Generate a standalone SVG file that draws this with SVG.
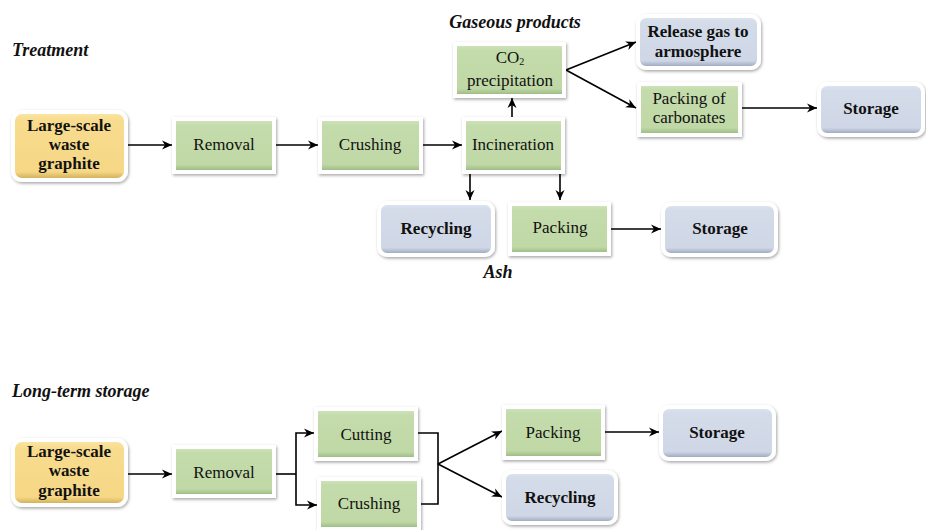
<svg xmlns="http://www.w3.org/2000/svg" width="926" height="530" viewBox="0 0 926 530">
<defs>
<linearGradient id="gG" x1="0" y1="0" x2="0" y2="1">
<stop offset="0" stop-color="#d2e5c0"/><stop offset="0.12" stop-color="#c4dcab"/><stop offset="0.86" stop-color="#bfd8a6"/><stop offset="1" stop-color="#93b27a"/>
</linearGradient>
<linearGradient id="gB" x1="0" y1="0" x2="0" y2="1">
<stop offset="0" stop-color="#e0e6f0"/><stop offset="0.12" stop-color="#d4dcea"/><stop offset="0.86" stop-color="#cfd7e6"/><stop offset="1" stop-color="#8f9cb3"/>
</linearGradient>
<linearGradient id="gY" x1="0" y1="0" x2="0" y2="1">
<stop offset="0" stop-color="#fbe6a8"/><stop offset="0.12" stop-color="#f8dc8e"/><stop offset="0.88" stop-color="#f5d785"/><stop offset="1" stop-color="#c9a650"/>
</linearGradient>
<filter id="sh" x="-10%" y="-10%" width="130%" height="140%">
<feDropShadow dx="1" dy="1.5" stdDeviation="1.5" flood-color="#000" flood-opacity="0.35"/>
</filter>
<marker id="ar" viewBox="0 0 10 10" refX="10" refY="5" markerWidth="10" markerHeight="10" markerUnits="userSpaceOnUse" orient="auto">
<path d="M0,0.5 L10,5 L0,9.5 L3,5 z" fill="#000"/>
</marker>
</defs>
<style>
.g{fill:url(#gG);stroke:#fff;stroke-width:4;filter:url(#sh)}
.b{fill:url(#gB);stroke:#fff;stroke-width:4;filter:url(#sh)}
.y{fill:url(#gY);stroke:#fff;stroke-width:4;filter:url(#sh)}
text{font-family:"Liberation Serif","Times New Roman",serif;font-size:17px;fill:#111;text-anchor:middle}
.bd{font-weight:bold}
.ti{font-weight:bold;font-style:italic;font-size:18px;text-anchor:start}
.c{fill:none;stroke:#000;stroke-width:1.6}
.a{marker-end:url(#ar)}
</style>

<text class="ti" x="12" y="56">Treatment</text>
<text class="ti" x="515" y="28" style="text-anchor:middle">Gaseous products</text>
<text class="ti" x="498" y="278" style="text-anchor:middle">Ash</text>
<text class="ti" x="12" y="397">Long-term storage</text>

<g id="connectors">
<path class="c a" d="M128,145 H172"/>
<path class="c a" d="M276,145 H318"/>
<path class="c a" d="M423,145 H462"/>
<path class="c a" d="M512,117 V98"/>
<path class="c a" d="M566,70 L636,42"/>
<path class="c a" d="M566,70 L636,108"/>
<path class="c a" d="M742,108 H817"/>
<path class="c a" d="M470,174 V200"/>
<path class="c a" d="M560,174 V200"/>
<path class="c a" d="M611,229 H661"/>
<path class="c a" d="M128,474 H172"/>
<path class="c" d="M276,474 H296"/>
<path class="c a" d="M296,474 V433 H314"/>
<path class="c a" d="M296,474 V505 H317"/>
<path class="c" d="M418,433 H438 V504 H421"/>
<path class="c a" d="M438,464 L502,431"/>
<path class="c a" d="M438,464 L502,497"/>
<path class="c a" d="M605,432 H659"/>
</g>

<g id="ls1"><rect class="y" x="13" y="112" width="113" height="68" rx="9"/>
<text class="bd" x="69" y="131">Large-scale</text><text class="bd" x="69" y="150">waste</text><text class="bd" x="69" y="169">graphite</text></g>
<g id="removal1"><rect class="g" x="174" y="119" width="100" height="53"/><text x="224" y="150">Removal</text></g>
<g id="crushing1"><rect class="g" x="320" y="119" width="101" height="53"/><text x="370" y="150">Crushing</text></g>
<g id="incineration"><rect class="g" x="464" y="119" width="99" height="53"/><text x="513" y="150">Incineration</text></g>
<g id="co2"><rect class="g" x="455" y="44" width="109" height="52"/><text x="510" y="63">CO<tspan font-size="10" dy="2">2</tspan></text><text x="510" y="86">precipitation</text></g>
<g id="release"><rect class="b" x="638" y="16" width="121" height="52" rx="8"/><text class="bd" x="698" y="37">Release gas to</text><text class="bd" x="698" y="57">armosphere</text></g>
<g id="packcarb"><rect class="g" x="639" y="84" width="101" height="51"/><text x="689" y="104">Packing of</text><text x="689" y="123">carbonates</text></g>
<g id="storage1"><rect class="b" x="819" y="84" width="104" height="51" rx="8"/><text class="bd" x="871" y="114">Storage</text></g>
<g id="recycling1"><rect class="b" x="379" y="203" width="114" height="52" rx="8"/><text class="bd" x="436" y="234">Recycling</text></g>
<g id="packing1"><rect class="g" x="510" y="204" width="99" height="50"/><text x="560" y="233">Packing</text></g>
<g id="storage2"><rect class="b" x="663" y="204" width="113" height="51" rx="8"/><text class="bd" x="720" y="234">Storage</text></g>

<g id="ls2"><rect class="y" x="13" y="440" width="113" height="65" rx="9"/>
<text class="bd" x="69" y="457">Large-scale</text><text class="bd" x="69" y="476">waste</text><text class="bd" x="69" y="496">graphite</text></g>
<g id="removal2"><rect class="g" x="174" y="447" width="100" height="49"/><text x="224" y="478">Removal</text></g>
<g id="cutting"><rect class="g" x="316" y="409" width="100" height="50"/><text x="366" y="440">Cutting</text></g>
<g id="crushing2"><rect class="g" x="319" y="479" width="100" height="50"/><text x="369" y="509">Crushing</text></g>
<g id="packing2"><rect class="g" x="504" y="407" width="99" height="51"/><text x="553" y="438">Packing</text></g>
<g id="recycling2"><rect class="b" x="504" y="472" width="112" height="51" rx="8"/><text class="bd" x="560" y="503">Recycling</text></g>
<g id="storage3"><rect class="b" x="661" y="407" width="113" height="52" rx="8"/><text class="bd" x="717" y="438">Storage</text></g>
</svg>
